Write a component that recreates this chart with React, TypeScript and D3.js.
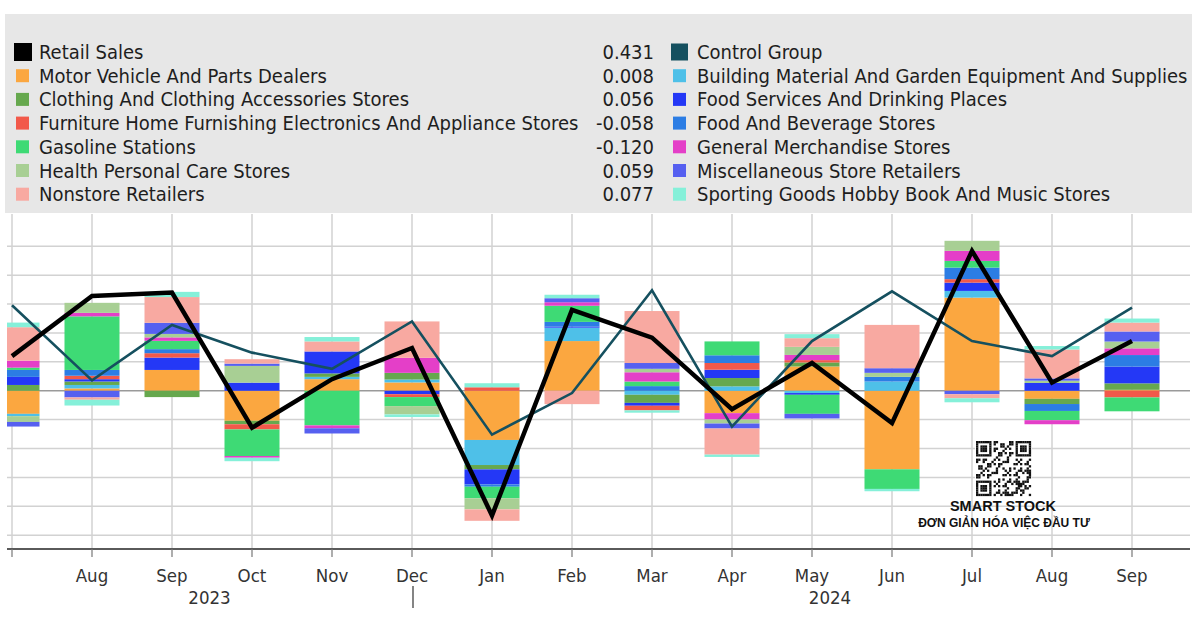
import React from "react";
import * as d3 from "d3";

// ---------- DATA ----------
const periods = ["2023-07","2023-08","2023-09","2023-10","2023-11","2023-12","2024-01","2024-02","2024-03","2024-04","2024-05","2024-06","2024-07","2024-08","2024-09"];
const monthLabels = ["Jul","Aug","Sep","Oct","Nov","Dec","Jan","Feb","Mar","Apr","May","Jun","Jul","Aug","Sep"];
const yearLabels = ["2023", "2024"];

const retailSales = [0.30, 0.82, 0.85, -0.32, 0.10, 0.37, -1.08, 0.70, 0.46, -0.16, 0.24, -0.28, 1.21, 0.07, 0.431];
const controlGroup = [0.74, 0.09, 0.57, 0.33, 0.19, 0.60, -0.38, -0.02, 0.87, -0.31, 0.43, 0.86, 0.43, 0.30, 0.72];

const motorVehicle = [-0.20, 0.02, 0.18, -0.26, 0.10, 0.072, -0.426, 0.43, 0, -0.194, 0.21, -0.68, 0.806, -0.07, 0.008];
const buildingMaterial = [-0.02, 0.03, 0, 0, 0.02, 0.025, -0.217, 0.116, -0.035, 0.038, -0.02, 0.08, 0.058, 0, 0];
const clothing = [0.05, 0.03, -0.055, -0.03, 0.03, 0.058, -0.038, 0, -0.07, 0.072, 0.035, 0, 0, -0.045, 0.056];
const foodServices = [0.07, 0.02, 0.107, 0.07, 0.19, -0.03, -0.13, 0.01, -0.025, 0.072, -0.015, 0, 0.072, 0.067, 0.145];
const furniture = [0, 0.03, 0.038, -0.045, 0, -0.025, 0.03, 0, -0.04, 0.058, 0.02, 0, 0.03, 0, -0.058];
const foodBeverage = [0.06, 0.05, 0.035, 0, 0, 0, -0.02, 0.04, 0.04, 0.067, 0, 0.04, 0.10, -0.06, 0.10];
const gasoline = [0.02, 0.464, 0.072, -0.23, -0.30, -0.078, -0.10, 0.14, 0.04, 0.12, -0.165, -0.17, 0.058, -0.08, -0.12];
const generalMerch = [0.06, 0.03, 0.03, -0.015, -0.025, 0.13, 0, 0.03, 0.08, -0.055, 0.045, 0, 0.087, -0.035, 0.058];
const health = [-0.05, 0.087, 0.03, 0.145, 0, -0.072, -0.096, 0, 0.03, -0.035, 0.07, 0.035, 0.087, 0.02, 0.059];
const miscStores = [-0.04, -0.058, 0.096, 0.02, -0.045, 0, 0, 0.035, 0.05, -0.043, -0.04, 0.04, -0.03, 0.02, 0.087];
const nonstore = [0.29, -0.02, 0.223, 0.038, 0.087, 0.315, -0.099, -0.116, 0.45, -0.226, 0.075, 0.375, -0.035, 0.25, 0.077];
const sportingGoods = [0.04, -0.05, 0.045, -0.03, 0.038, -0.023, 0.035, 0.03, -0.02, -0.02, 0.035, -0.02, -0.035, 0.03, 0.035];

const barKeys = ["motor","building","clothing","foodServ","furniture","foodBev","gasoline","genMerch","health","misc","nonstore","sporting"];
const barValues = [motorVehicle, buildingMaterial, clothing, foodServices, furniture, foodBeverage, gasoline, generalMerch, health, miscStores, nonstore, sportingGoods];
const barColors = ["#FBA740","#4EC0E8","#66A84E","#2438F6","#F2594A","#2C7DE4","#3EDA75","#E43FC8","#A8CF94","#5660F0","#F8A9A1","#85F0D9"];

const legendLeft = ["Retail Sales","Motor Vehicle And Parts Dealers","Clothing And Clothing Accessories Stores","Furniture Home Furnishing Electronics And Appliance Stores","Gasoline Stations","Health Personal Care Stores","Nonstore Retailers"];
const legendLeftColors = ["#000000","#FBA740","#66A84E","#F2594A","#3EDA75","#A8CF94","#F8A9A1"];
const legendValues = ["0.431","0.008","0.056","-0.058","-0.120","0.059","0.077"];
const legendRight = ["Control Group","Building Material And Garden Equipment And Supplies","Food Services And Drinking Places","Food And Beverage Stores","General Merchandise Stores","Miscellaneous Store Retailers","Sporting Goods Hobby Book And Music Stores"];
const legendRightColors = ["#15505F","#4EC0E8","#2438F6","#2C7DE4","#E43FC8","#5660F0","#85F0D9"];

const gridTicks = [-1.25, -1, -0.75, -0.5, -0.25, 0.25, 0.5, 0.75, 1, 1.25];

// ---------- LAYOUT ----------
const W = 1200, H = 620;
const plotLeft = 7, plotRight = 1190, plotTop = 214, plotBottom = 549;
const FONT = "'DejaVu Sans', sans-serif";
const COND = { fontStretch: "condensed" } as React.CSSProperties;

export default function App() {
  const x = d3.scalePoint<string>().domain(periods).range([12, 1132]);
  const y = d3.scaleLinear().domain([-1.37, 1.53]).range([plotBottom, plotTop]);
  const barW = 55;

  const table = periods.map((p, i) => {
    const row: any = { period: p };
    barKeys.forEach((k, j) => (row[k] = barValues[j][i]));
    return row;
  });
  const stacked = d3.stack<any>().keys(barKeys).offset(d3.stackOffsetDiverging)(table);

  const lineGen = d3.line<number>().x((_, i) => x(periods[i])!).y(d => y(d));

  // QR-like watermark decoration
  const qrN = 25, qrCell = 2.2, qrX = 976, qrY = 441;
  const finder = (r: number, c: number) => {
    const inF = (r0: number, c0: number) => {
      const rr = r - r0, cc = c - c0;
      if (rr < 0 || rr > 6 || cc < 0 || cc > 6) return null;
      if (rr === 0 || rr === 6 || cc === 0 || cc === 6) return true;
      if (rr >= 2 && rr <= 4 && cc >= 2 && cc <= 4) return true;
      return false;
    };
    const a = inF(0, 0); if (a !== null) return a;
    const b = inF(0, qrN - 7); if (b !== null) return b;
    const c2 = inF(qrN - 7, 0); if (c2 !== null) return c2;
    if ((r === 7 && (c < 8 || c > qrN - 9)) || (c === 7 && (r < 8 || r > qrN - 9)) || (r === qrN - 8 && c < 8) || (c === qrN - 8 && r < 8)) return false;
    return null;
  };
  const qrCells: { r: number; c: number }[] = [];
  for (let r = 0; r < qrN; r++) {
    for (let c = 0; c < qrN; c++) {
      const f = finder(r, c);
      const on = f !== null ? f : ((r * 7 + c * 13 + ((r * c) % 5)) % 3 === 0) !== ((r + c) % 4 === 0);
      if (on) qrCells.push({ r, c });
    }
  }

  const rowY = (i: number) => 52 + i * 23.7;
  const LFS = 20;

  return (
    <svg width={W} height={H} style={{ position: "absolute", left: 0, top: 0, background: "#fff" }} fontFamily={FONT}>
      <defs>
        <clipPath id="plotClip">
          <rect x={plotLeft} y={plotTop} width={plotRight - plotLeft} height={plotBottom - plotTop} />
        </clipPath>
      </defs>
      <rect x={0} y={0} width={W} height={H} fill="#fff" />

      {/* Legend box */}
      <rect x={5} y={14} width={1187} height={199} fill="#E7E7E7" />
      {legendLeft.map((name, i) => {
        const big = i === 0;
        const s = big ? 18 : 13;
        return (
          <g key={"ll" + i}>
            <rect x={big ? 14 : 16} y={rowY(i) - s / 2} width={s} height={s} fill={legendLeftColors[i]} />
            <text x={39} y={rowY(i)} dy="0.35em" fontSize={LFS} fill="#1e1e1e" style={COND}>{name}</text>
            <text x={654} y={rowY(i)} dy="0.35em" fontSize={LFS} fill="#1e1e1e" textAnchor="end" style={COND}>{legendValues[i]}</text>
          </g>
        );
      })}
      {legendRight.map((name, i) => {
        const big = i === 0;
        const s = big ? 17 : 13;
        return (
          <g key={"lr" + i}>
            <rect x={big ? 671 : 673} y={rowY(i) - s / 2} width={s} height={s} fill={legendRightColors[i]} />
            <text x={697} y={rowY(i)} dy="0.35em" fontSize={LFS} fill="#1e1e1e" style={COND}>{name}</text>
          </g>
        );
      })}

      {/* Grid */}
      {gridTicks.map(t => (
        <line key={"h" + t} x1={plotLeft} x2={plotRight} y1={y(t)} y2={y(t)} stroke="#D2D2D2" strokeWidth={1.5} />
      ))}
      {periods.map(p => (
        <line key={"v" + p} x1={x(p)} x2={x(p)} y1={plotTop} y2={plotBottom} stroke="#D2D2D2" strokeWidth={1.5} />
      ))}
      <line x1={plotLeft} x2={plotRight} y1={y(0)} y2={y(0)} stroke="#9A9A9A" strokeWidth={1.5} />

      {/* Bars */}
      <g clipPath="url(#plotClip)">
        {stacked.map((s, si) => (
          <g key={s.key} fill={barColors[si]}>
            {s.map((d, i) => {
              const y0 = y(d[0]), y1 = y(d[1]);
              const h = Math.abs(y0 - y1);
              if (h < 0.01) return null;
              return <rect key={i} x={x(periods[i])! - barW / 2} y={Math.min(y0, y1)} width={barW} height={h} />;
            })}
          </g>
        ))}
        <path d={lineGen(controlGroup)!} fill="none" stroke="#15505F" strokeWidth={2.6} strokeLinejoin="miter" />
        <path d={lineGen(retailSales)!} fill="none" stroke="#000" strokeWidth={4.5} strokeLinejoin="miter" />
      </g>

      {/* Axis */}
      <line x1={plotLeft} x2={plotRight} y1={plotBottom} y2={plotBottom} stroke="#5A5A5A" strokeWidth={2.2} />
      {periods.map(p => (
        <line key={"t" + p} x1={x(p)} x2={x(p)} y1={plotBottom} y2={plotBottom + 8} stroke="#777" strokeWidth={1.2} />
      ))}
      {periods.map((p, i) => i === 0 ? null : (
        <text key={"ml" + p} x={x(p)} y={576} dy="0.35em" textAnchor="middle" fontSize={18.5} fill="#333" style={COND}>{monthLabels[i]}</text>
      ))}
      <text x={(plotLeft + x(periods[5])!) / 2} y={598} dy="0.35em" textAnchor="middle" fontSize={18.5} fill="#333" style={COND}>{yearLabels[0]}</text>
      <text x={(x(periods[6])! + x(periods[14])!) / 2 + 18} y={598} dy="0.35em" textAnchor="middle" fontSize={18.5} fill="#333" style={COND}>{yearLabels[1]}</text>
      <line x1={x(periods[5])! + 1} x2={x(periods[5])! + 1} y1={586} y2={608} stroke="#333" strokeWidth={1.2} />

      {/* Watermark */}
      <g>
        <rect x={qrX - 1} y={qrY - 1} width={qrN * qrCell + 2} height={qrN * qrCell + 2} fill="#fff" />
        {qrCells.map(({ r, c }) => (
          <rect key={r + "-" + c} x={qrX + c * qrCell} y={qrY + r * qrCell} width={qrCell + 0.1} height={qrCell + 0.1} fill="#111" />
        ))}
        <text x={1003} y={511} textAnchor="middle" fontSize={14.5} fontWeight="bold" fill="#111" fontFamily="'Liberation Sans', Arial, sans-serif">SMART STOCK</text>
        <text x={1004} y={527} textAnchor="middle" fontSize={12} fontWeight="bold" fill="#111" fontFamily="'Liberation Sans', Arial, sans-serif">ĐƠN GIẢN HÓA VIỆC ĐẦU TƯ</text>
      </g>
    </svg>
  );
}
